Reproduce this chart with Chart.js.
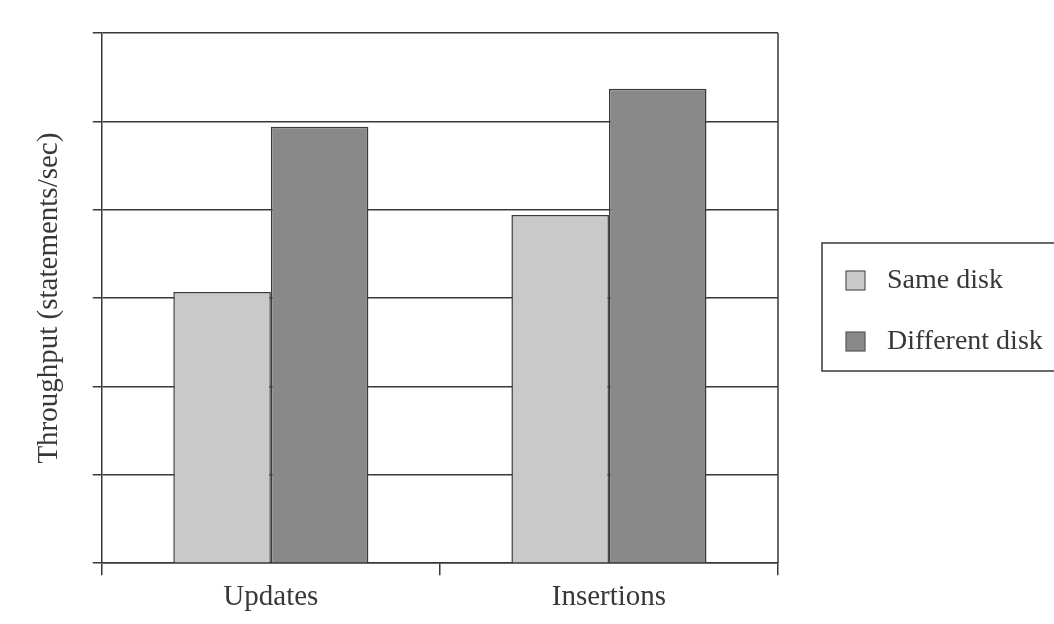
<!DOCTYPE html>
<html>
<head>
<meta charset="utf-8">
<script src="https://cdn.jsdelivr.net/npm/chart.js@4.4.1/dist/chart.umd.min.js"></script>
<style>
  html, body { margin: 0; padding: 0; background: #ffffff; }
  #wrap { width: 1054px; height: 624px; }
</style>
</head>
<body>
<div id="wrap"><canvas id="c" width="1054" height="624"></canvas></div>
<script>
const categories = ['Updates', 'Insertions'];
const seriesNames = ['Same disk', 'Different disk'];
const sameDisk = [3.07, 3.94];
const differentDisk = [4.94, 5.37];
const yTickValues = [0, 1, 2, 3, 4, 5, 6];
const yAxisTitle = 'Throughput (statements/sec)';

const FONT = '"Liberation Serif", "Times New Roman", serif';
const INK = '#383838';

const frameAndLegend = {
  id: 'frameAndLegend',
  afterDraw(chart) {
    const ctx = chart.ctx;
    const a = chart.chartArea;
    ctx.save();
    ctx.strokeStyle = INK;
    ctx.lineWidth = 1.5;
    ctx.beginPath();
    ctx.moveTo(a.right, a.top);
    ctx.lineTo(a.right, a.bottom);
    ctx.stroke();
    const bx = a.right + 44, by = 243, bw = 260, bh = 128;
    ctx.strokeRect(bx, by, bw, bh);
    ctx.font = '28px ' + FONT;
    ctx.textBaseline = 'middle';
    chart.data.datasets.forEach((ds, i) => {
      const cy = 280 + i * 61;
      ctx.fillStyle = ds.backgroundColor;
      ctx.fillRect(bx + 24, cy - 9, 19, 19);
      ctx.lineWidth = 1.2;
      ctx.strokeStyle = '#555';
      ctx.strokeRect(bx + 24, cy - 9, 19, 19);
      ctx.fillStyle = INK;
      ctx.fillText(ds.label, bx + 65, cy + 1);
    });
    ctx.restore();
  }
};

new Chart(document.getElementById('c'), {
  type: 'bar',
  data: {
    labels: categories,
    datasets: [
      { label: seriesNames[0], data: sameDisk, backgroundColor: '#c9c9c9', borderColor: '#3a3a3a', borderWidth: 1.5 },
      { label: seriesNames[1], data: differentDisk, backgroundColor: '#898989', borderColor: '#3a3a3a', borderWidth: 1.5 }
    ]
  },
  options: {
    responsive: false,
    animation: false,
    events: [],
    layout: { padding: { left: 20, top: 33, right: 276, bottom: 4 } },
    plugins: { legend: { display: false }, tooltip: { enabled: false } },
    datasets: { bar: { barPercentage: 1.0, categoryPercentage: 0.577 } },
    scales: {
      x: {
        grid: { display: true, drawOnChartArea: false, offset: true, tickLength: 12, color: INK, lineWidth: 1.5 },
        border: { display: true, color: INK, width: 1.5 },
        ticks: { color: INK, font: { family: FONT, size: 29 }, padding: 5 }
      },
      y: {
        min: 0, max: 6,
        afterBuildTicks(scale) { scale.ticks = yTickValues.map(v => ({ value: v })); },
        grid: { color: INK, lineWidth: 1.5, tickLength: 9 },
        border: { display: true, color: INK, width: 1.5 },
        ticks: { display: false },
        title: {
          display: true, text: yAxisTitle, color: INK,
          font: { family: FONT, size: 29 },
          padding: { top: 12, bottom: 26 }
        }
      }
    }
  },
  plugins: [frameAndLegend]
});
</script>
</body>
</html>
